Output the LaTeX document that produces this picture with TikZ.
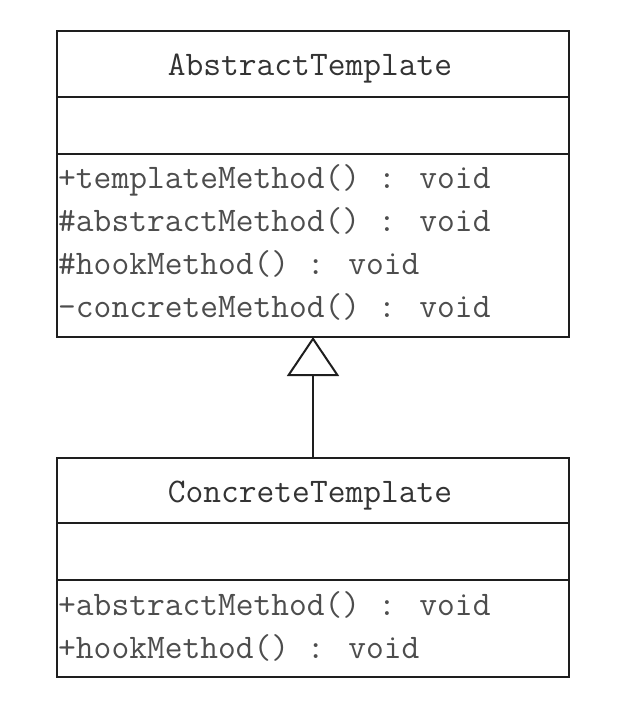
\documentclass[tikz,border=0pt]{standalone}
\usepackage{fontspec}
\usetikzlibrary{arrows.meta}

\definecolor{linegray}{HTML}{1E1E1E}
\definecolor{titlegray}{HTML}{333333}
\definecolor{opgray}{HTML}{4D4D4D}

\tikzset{
	part/.style={shape=rectangle,draw=linegray,line width=2pt,minimum width=512pt,inner sep=0pt,outer sep=0pt},
	classname/.style={anchor=base,inner sep=0pt,text=titlegray,font=\ttfamily\fontsize{34.5}{40}\selectfont},
	operation/.style={anchor=base west,inner sep=0pt,text=opgray,font=\ttfamily\fontsize{34.5}{40}\selectfont},
	generalization/.style={draw=linegray,line width=2pt,-{Triangle[open,length=39pt,width=52pt]}}
}

\begin{document}
\begin{tikzpicture}[x=1pt,y=-1pt]
	\useasboundingbox (0,0) rectangle (630,701);

	\node[part,minimum height=66pt] (abstractName) at (313,64) {};
	\node[part,minimum height=57pt] (abstractAttr) at (313,125.5) {};
	\node[part,minimum height=183pt] (abstractOps) at (313,245.5) {};

	\node[classname] (abstractTitle) at (310,75) {AbstractTemplate};
	\node[operation] (templateOp) at (58,188) {+templateMethod() : void};
	\node[operation] (abstractOp) at (58,231) {\#abstractMethod() : void};
	\node[operation] (hookOp) at (58,274) {\#hookMethod() : void};
	\node[operation] (concreteOp) at (58,317) {-concreteMethod() : void};

	\node[part,minimum height=65pt] (concreteName) at (313,490.5) {};
	\node[part,minimum height=57pt] (concreteAttr) at (313,551.5) {};
	\node[part,minimum height=97pt] (concreteOps) at (313,628.5) {};

	\node[classname] (concreteTitle) at (310,502) {ConcreteTemplate};
	\node[operation] (abstractImpl) at (58,615) {+abstractMethod() : void};
	\node[operation] (hookImpl) at (58,658) {+hookMethod() : void};

	\path[generalization] (concreteName) edge (abstractOps);
\end{tikzpicture}
\end{document}
